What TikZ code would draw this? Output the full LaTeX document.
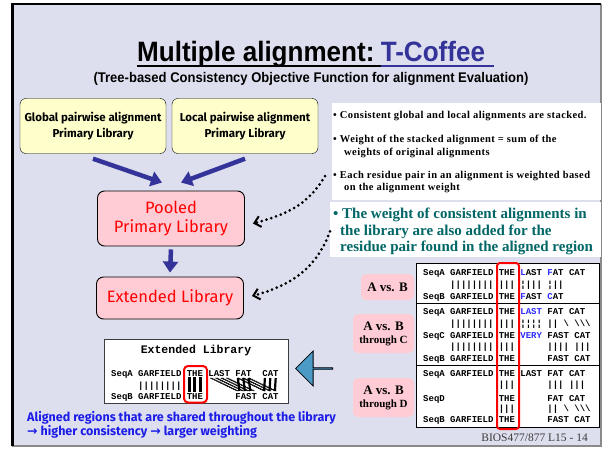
\documentclass[tikz,border=0pt]{standalone}
\usepackage{fontspec}
\usetikzlibrary{arrows.meta, positioning, calc, shapes.arrows}
\setmainfont{Liberation Serif}
\newfontfamily\titlefont[FakeStretch=0.93]{Liberation Sans}
\newfontfamily\comicfont{Fira Sans}
\newfontfamily\monofont{Liberation Mono}
\newfontfamily\symfont{DejaVu Sans}
\newfontfamily\espaciada[LetterSpace=4]{Liberation Serif}
\definecolor{lavanda}{HTML}{DDDFEE}
\definecolor{crema}{HTML}{FFFFCC}
\definecolor{rosa}{HTML}{FFCCD5}
\definecolor{indigo}{HTML}{333399}
\definecolor{rojo}{HTML}{FF0000}
\definecolor{verdeazul}{HTML}{006666}
\definecolor{acero}{HTML}{4B9AC6}
\definecolor{azulvivo}{HTML}{1C1CE8}
\definecolor{azulsec}{HTML}{2B2BFF}
\definecolor{gris}{HTML}{3C3C3C}
\newcommand{\az}[1]{\textcolor{azulsec}{#1}}
\newcommand{\bs}{\textbackslash}
\tikzset{
  prim/.style={draw=black, fill=crema, rounded corners=6pt, minimum width=146pt, minimum height=55pt,
               font=\comicfont\bfseries\fontsize{11.5}{16}\selectfont, align=center},
  lib/.style={draw=black, fill=rosa, rounded corners=7pt, line width=0.9pt, text=rojo,
              minimum width=147pt, font=\comicfont\fontsize{16.5}{19}\selectfont, align=center},
  etiq/.style={fill=rosa, rounded corners=5pt, inner sep=0pt, font=\bfseries\fontsize{13}{13}\selectfont, align=center},
  fila/.style={anchor=base west, inner sep=0pt, font=\monofont\bfseries\fontsize{9}{9}\selectfont},
  punto/.style={anchor=base west, inner sep=0pt, font=\espaciada\bfseries\fontsize{10.5}{12}\selectfont},
  destaca/.style={anchor=base west, inner sep=0pt, text=verdeazul, font=\bfseries\fontsize{15}{16}\selectfont},
  nota/.style={anchor=base west, inner sep=0pt, text=azulvivo, font=\comicfont\bfseries\fontsize{12.5}{13}\selectfont},
  flechaazul/.style={indigo, line width=4.5pt, -{Triangle[length=11pt, width=15pt]}},
  flechap/.style={line width=3pt, line cap=round, dash pattern=on 0pt off 5pt,
                  -{Straight Barb[length=6pt, width=11pt, line width=2pt]}},
}
\begin{document}
\begin{tikzpicture}[x=1pt, y=-1pt]
  \useasboundingbox (0,0) rectangle (611,452);
  % marco
  \fill[lavanda] (12,4) rectangle (601,446);
  \draw[gris!60, line width=2.5pt] (601,4) -- (601,446) -- (12,446);
  \draw[line width=3pt] (12.5,446) -- (12.5,4);
  \draw[line width=2pt] (11,4) -- (601,4);

  % titulo
  \node[anchor=base west, inner sep=0pt, font=\titlefont\bfseries\fontsize{28}{30}\selectfont] (tituloA) at (137,62) {Multiple alignment:};
  \node[base right=6pt of tituloA, inner sep=0pt, text=indigo, font=\titlefont\bfseries\fontsize{28}{30}\selectfont] (tituloB) {T-Coffee};
  \draw[line width=2pt] ([yshift=-4pt]tituloA.base west) -- ([yshift=-4pt]tituloB.base west);
  \draw[indigo, line width=2pt] ([yshift=-4pt]tituloB.base west) -- ([xshift=9pt, yshift=-4pt]tituloB.base east);
  \node[font=\titlefont\bfseries\fontsize{14}{16}\selectfont] (subtitulo) at (311,79) {(Tree-based Consistency Objective Function for alignment Evaluation)};

  % bibliotecas
  \node[prim] (glob) at (93,126) {Global pairwise alignment\\Primary Library};
  \node[prim] (loc) at (245,126) {Local pairwise alignment\\Primary Library};
  \node[lib, minimum height=55pt] (pool) at (171,218.5) {Pooled\\Primary Library};
  \node[lib, minimum height=42pt] (ext) at (170,298) {Extended Library};
  \draw[flechaazul] ([yshift=-5pt]glob.south) -- ([xshift=-9pt, yshift=8pt]pool.north);
  \draw[flechaazul] ([yshift=-5pt]loc.south) -- ([xshift=10pt, yshift=8pt]pool.north);
  \draw[flechaazul] ([yshift=-3pt]pool.south) -- ([yshift=4pt]ext.north);

  % explicaciones
  \fill[white] (332,103) rectangle (601,200);
  \fill[white] (330,201.5) rectangle (601,257);
  \node[punto] (b1) at (333,118.5) {• Consistent global and local alignments are stacked.};
  \node[punto] (b2) at (333,142.5) {• Weight of the stacked alignment = sum of the};
  \node[punto] (b2b) at (344,155.5) {weights of original alignments};
  \node[punto] (b3) at (333,178.5) {• Each residue pair in an alignment is weighted based};
  \node[punto] (b3b) at (344,190.5) {on the alignment weight};
  \node[destaca] (d1) at (333,218) {• The weight of consistent alignments in};
  \node[destaca] (d2) at (340,235) {the library are also added for the};
  \node[destaca] (d3) at (340,251) {residue pair found in the aligned region};
  \draw[flechap] ([xshift=-8pt]b3.west) to[out=240, in=15] ([xshift=8pt, yshift=-5pt]pool.east);
  \draw[flechap] ([xshift=-10pt]d2.west) to[out=250, in=15] ([xshift=8pt, yshift=2pt]ext.east);

  % alineamientos por pares
  \fill[white] (416,263) rectangle (599,427);
  \draw[line width=0.8pt] (416,263) rectangle (599,427);
  \draw[line width=0.8pt] (416,303.5) -- (599,303.5);
  \draw[line width=0.8pt] (416,365) -- (599,365);
  \node[fila] (s1a) at (423,275.5) {SeqA~GARFIELD~THE~\az{L}AST~\az{F}AT~CAT};
  \node[fila] (s1b) at (423,287) {~~~~~||||||||~|||~¦|||~¦||};
  \node[fila] (s1c) at (423,299) {SeqB~GARFIELD~THE~\az{F}AST~\az{C}AT};
  \node[fila] (s2a) at (423,314.5) {SeqA~GARFIELD~THE~\az{LAST}~FAT~CAT};
  \node[fila] (s2b) at (423,326) {~~~~~||||||||~|||~¦¦¦¦~||~\bs~\bs\bs\bs};
  \node[fila] (s2c) at (423,338) {SeqC~GARFIELD~THE~\az{VERY}~FAST~CAT};
  \node[fila] (s2d) at (423,349.5) {~~~~~||||||||~|||~~~~~~||||~|||};
  \node[fila] (s2e) at (423,361) {SeqB~GARFIELD~THE~~~~~~FAST~CAT};
  \node[fila] (s3a) at (423,376) {SeqA~GARFIELD~THE~LAST~FAT~CAT};
  \node[fila] (s3b) at (423,387.5) {~~~~~~~~~~~~~~|||~~~~~~|||~|||};
  \node[fila] (s3c) at (423,401) {SeqD~~~~~~~~~~THE~~~~~~FAT~CAT};
  \node[fila] (s3d) at (423,411.5) {~~~~~~~~~~~~~~|||~~~~~~||~\bs~\bs\bs\bs};
  \node[fila] (s3e) at (423,422.5) {SeqB~GARFIELD~THE~~~~~~FAST~CAT};
  \node[etiq, minimum width=53pt, minimum height=26pt] (ab1) at (387.5,287) {A vs. B};
  \node[etiq, minimum width=61pt, minimum height=39pt] (ab2) at (383.5,333.5) {A vs. B\\{\fontsize{11}{12}\selectfont through C}};
  \node[etiq, minimum width=61pt, minimum height=39pt] (ab3) at (383.5,397.5) {A vs. B\\{\fontsize{11}{12}\selectfont through D}};
  \draw[rojo, line width=2pt, rounded corners=3pt] (497,263) rectangle (519,429);

  % biblioteca extendida
  \node[draw=gris, fill=white, line width=0.8pt, minimum width=184pt, minimum height=64pt] (extcaja) at (196,371) {};
  \node[font=\monofont\bfseries\fontsize{11.5}{12}\selectfont] (exttit) at (196,351) {Extended Library};
  \node[fila] (ea) at (111,376.5) {SeqA~GARFIELD~THE~LAST~FAT~~CAT};
  \node[fila] (eb) at (111,388) {~~~~~||||||||};
  \node[fila] (ec) at (111,399.5) {SeqB~GARFIELD~THE~~~~~~FAST~CAT};
  \foreach \c in {14,15,16}
    \fill ({111+5.4*\c+1.1},377) rectangle ({111+5.4*\c+4.3},392);
  \foreach \c in {18,...,21, 23,24,25}
    \foreach \d in {-0.9,0,0.9}
      \draw[line width=0.6pt, dash pattern=on 1.5pt off 0.8pt] ({113.7+5.4*\c+\d},378) -- ({113.7+5.4*(\c+5)+\d},391);
  \foreach \c in {23,24,25}
    \draw[line width=2.2pt] ({113.7+5.4*\c},378) -- ({113.7+5.4*\c+1.5},391);
  \foreach \c in {28,29,30}
    \draw[line width=2.2pt] ({113.7+5.4*\c},378) -- ({113.7+5.4*\c-0.8},391);
  \draw[rojo, line width=2pt, rounded corners=4pt] (184,366) rectangle (207,402.5);
  \node[single arrow, draw=black, fill=acero, line width=0.8pt, inner sep=0pt, minimum height=37pt,
        minimum width=35pt, single arrow head extend=8.5pt, shape border rotate=180] (flechagrande) at (314.5,368.5) {};

  % conclusion
  \node[nota] (nota1) at (27,421) {Aligned regions that are shared throughout the library};
  \node[nota] (nota2) at (27,435) {{\symfont →} higher consistency {\symfont →} larger weighting};
  \node[anchor=base east, inner sep=0pt, text=gris, font=\fontsize{11.5}{12}\selectfont] (pie) at (588,441) {BIOS477/877 L15 - 14};
\end{tikzpicture}
\end{document}
